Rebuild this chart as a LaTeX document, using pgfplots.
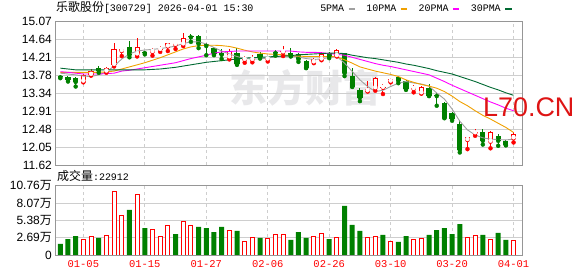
\documentclass[border=0pt]{standalone}
\usepackage{fontspec}
\setmainfont{Liberation Sans}
\newfontfamily\cjk{Noto Sans CJK SC}
\newfontfamily\mono{Liberation Mono}
\usepackage{pgfplots}
\usepackage{pgfplotstable}
\pgfplotsset{compat=1.18}

\definecolor{upred}{RGB}{255,0,0}
\definecolor{dngreen}{RGB}{0,128,0}
\definecolor{ma5c}{RGB}{160,160,160}
\definecolor{ma10c}{RGB}{240,160,0}
\definecolor{ma20c}{RGB}{255,0,255}
\definecolor{ma30c}{RGB}{0,105,50}
\definecolor{gridc}{RGB}{206,206,206}
\definecolor{framec}{RGB}{150,150,150}
\definecolor{wmark}{RGB}{232,232,234}
\definecolor{lred}{RGB}{222,20,20}

% up (red, hollow) candles
\pgfplotstableread{
i O H L C
3 13.62 13.80 13.60 13.78
4 13.78 13.92 13.76 13.87
6 13.86 13.97 13.83 13.95
7 14.02 14.55 13.98 14.39
8 14.35 14.41 14.23 14.40
10 14.27 14.67 14.22 14.44
12 14.33 14.43 14.24 14.38
13 14.38 14.48 14.33 14.41
14 14.46 14.55 14.35 14.54
15 14.50 14.56 14.40 14.53
16 14.51 14.79 14.47 14.66
22 14.20 14.41 14.15 14.36
24 14.14 14.23 14.07 14.17
25 14.14 14.26 14.08 14.20
27 14.15 14.24 14.10 14.19
29 14.32 14.47 14.23 14.35
33 14.08 14.19 14.06 14.15
34 14.15 14.33 14.13 14.29
36 14.23 14.40 14.22 14.38
40 13.39 13.63 13.38 13.44
41 13.46 13.74 13.40 13.70
42 13.47 13.55 13.32 13.50
43 13.62 13.71 13.60 13.68
46 13.44 13.53 13.36 13.47
47 13.34 13.52 13.33 13.50
53 12.22 12.30 12.00 12.29
54 12.38 12.48 12.32 12.41
56 12.18 12.43 12.02 12.42
59 12.26 12.42 12.16 12.36
}\upc

% down (green, filled) candles
\pgfplotstableread{
i O H L C
0 13.75 13.77 13.70 13.72
1 13.74 13.75 13.62 13.66
2 13.71 13.73 13.50 13.61
5 13.94 13.99 13.83 13.88
9 14.44 14.59 14.20 14.26
11 14.33 14.36 14.27 14.30
17 14.71 14.75 14.57 14.68
18 14.72 14.73 14.42 14.52
19 14.52 14.55 14.25 14.47
20 14.43 14.44 14.25 14.27
21 14.30 14.40 14.16 14.26
23 14.30 14.43 14.02 14.03
26 14.28 14.32 14.17 14.20
28 14.33 14.37 14.24 14.30
30 14.30 14.42 14.22 14.23
31 14.28 14.31 14.09 14.15
32 14.12 14.14 13.94 13.95
35 14.30 14.32 14.18 14.22
37 14.30 14.31 13.75 13.82
38 13.75 13.94 13.49 13.50
39 13.42 13.46 13.15 13.23
44 13.72 13.76 13.58 13.64
45 13.63 13.66 13.42 13.43
48 13.46 13.56 13.27 13.28
49 13.30 13.34 13.04 13.27
50 13.11 13.13 12.74 12.75
51 12.87 12.90 12.68 12.72
52 12.60 12.70 11.92 11.98
55 12.40 12.48 12.11 12.20
57 12.31 12.37 12.08 12.20
58 12.20 12.23 12.09 12.10
}\dnc

% moving averages
\pgfplotstableread{
i m5 m10 m20 m30
0 13.82 13.84 13.855 13.94
1 13.80 13.84 13.84 13.92
2 13.78 13.84 13.82 13.90
3 13.75 13.84 13.80 13.90
4 13.74 13.84 13.80 13.90
5 13.78 13.84 13.80 13.90
6 13.85 13.85 13.81 13.90
7 13.99 13.87 13.82 13.90
8 14.16 13.92 13.87 13.90
9 14.28 13.97 13.89 13.90
10 14.35 14.02 13.92 13.90
11 14.375 14.07 13.95 13.90
12 14.39 14.13 13.98 13.91
13 14.41 14.19 14.01 13.92
14 14.435 14.26 14.04 13.94
15 14.47 14.33 14.07 13.96
16 14.53 14.40 14.12 13.99
17 14.57 14.45 14.17 14.02
18 14.57 14.48 14.21 14.05
19 14.52 14.49 14.25 14.08
20 14.435 14.49 14.30 14.10
21 14.35 14.48 14.33 14.12
22 14.28 14.46 14.34 14.14
23 14.22 14.42 14.35 14.16
24 14.17 14.37 14.35 14.18
25 14.16 14.33 14.35 14.19
26 14.16 14.30 14.35 14.20
27 14.185 14.28 14.35 14.21
28 14.21 14.27 14.35 14.22
29 14.23 14.26 14.35 14.23
30 14.23 14.24 14.35 14.24
31 14.21 14.23 14.33 14.26
32 14.17 14.22 14.32 14.27
33 14.15 14.22 14.32 14.28
34 14.16 14.22 14.31 14.29
35 14.195 14.22 14.29 14.30
36 14.22 14.21 14.27 14.30
37 14.06 14.14 14.25 14.29
38 13.86 14.06 14.20 14.25
39 13.66 13.97 14.15 14.22
40 13.50 13.92 14.10 14.19
41 13.38 13.87 14.05 14.17
42 13.41 13.83 14.01 14.14
43 13.50 13.79 13.98 14.11
44 13.58 13.74 13.94 14.08
45 13.62 13.66 13.90 14.04
46 13.585 13.60 13.86 14.01
47 13.56 13.55 13.82 13.97
48 13.51 13.51 13.78 13.93
49 13.345 13.46 13.70 13.88
50 13.20 13.38 13.62 13.84
51 12.96 13.27 13.53 13.80
52 12.67 13.14 13.45 13.74
53 12.46 13.04 13.37 13.68
54 12.34 12.92 13.29 13.62
55 12.27 12.81 13.21 13.55
56 12.24 12.72 13.13 13.48
57 12.23 12.62 13.06 13.42
58 12.22 12.52 12.98 13.35
59 12.24 12.40 12.92 13.29
}\ma

% volume (10^4 shares), red hollow bars
\pgfplotstableread{
i v
3 2.43
4 2.90
6 3.05
7 9.89
8 6.16
10 9.32
12 3.99
13 2.90
14 4.61
16 5.23
17 4.61
22 3.83
24 2.17
25 2.74
27 2.59
28 3.21
29 3.21
33 2.90
34 3.36
36 2.74
40 2.74
41 2.90
43 2.17
46 2.33
47 2.59
53 2.74
54 3.05
56 2.43
59 2.29
}\vred

% volume, green filled bars
\pgfplotstableread{
i v
0 1.71
1 2.48
2 2.95
5 2.64
9 6.99
11 4.19
15 3.26
18 4.35
19 4.19
20 3.57
21 4.35
23 3.73
26 2.64
30 2.33
31 3.57
32 2.64
35 2.48
37 7.61
38 4.66
39 3.73
42 3.11
44 2.02
45 2.95
48 3.11
49 3.88
50 4.19
51 3.26
52 4.81
55 3.11
57 3.42
58 2.33
}\vgreen

\pgfplotsset{
  kline/.style={
    axis line style={framec, line width=0.9bp},
    major tick length=0pt,
    xmin=-0.6, xmax=60.1,
    xtick={3,11,19,27,35,43,51,59},
    xmajorgrids, ymajorgrids,
    x grid style={gridc, line width=0.8bp, dash pattern=on 3bp off 3bp},
    y grid style={gridc, line width=0.8bp},
    /pgf/number format/assume math mode=true,
    yticklabel style={font=\fontsize{12}{12}\selectfont, inner sep=0pt, anchor=east, xshift=-3.7bp},
    scale only axis,
    width=466.3bp,
  }
}

\begin{document}
\begin{tikzpicture}
\useasboundingbox (0,0) rectangle (578bp,276bp);
\node[anchor=center, text=wmark, font=\cjk\bfseries\fontsize{38}{38}\selectfont, inner sep=0pt] at (305bp,188bp) {东方财富};
\node[anchor=base west, inner sep=0pt] at (56bp,264.5bp) {{\cjk\fontsize{12}{12}\selectfont 乐歌股份}{\mono\fontsize{10}{10}\selectfont [300729] 2026-04-01 15:30}};
\node[anchor=base west, inner sep=0pt] at (57bp,95.5bp) {{\cjk\fontsize{12}{12}\selectfont 成交量}{\mono\fontsize{10}{10}\selectfont :22912}};

\begin{axis}[kline,
  at={(55.7bp,111bp)}, anchor=south west,
  height=144bp,
  ymin=11.62, ymax=15.07,
  xticklabels={},
  ytick={11.62,12.05125,12.4825,12.91375,13.345,13.77625,14.2075,14.63875,15.07},
  yticklabels={11.62,12.05,12.48,12.91,13.34,13.78,14.21,14.64,15.07},
  legend style={at={(1,1)}, anchor=south east, xshift=-9bp, yshift=6bp,
    draw=none, fill=none, inner sep=0pt, outer sep=0pt,
    font=\mono\fontsize{10}{10}\selectfont,
    /tikz/every odd column/.append style={column sep=1bp},
    /tikz/every even column/.append style={column sep=8bp}},
  legend columns=-1,
  legend plot pos=right,
  legend image code/.code={\draw[#1, line width=2.8bp] (0bp,0bp) -- (6.5bp,0bp);},
]
% wicks
\addplot[only marks, mark=none, upred, forget plot,
  error bars/.cd, y dir=plus, y explicit, error mark=none,
  error bar style={line width=1bp}]
  table[x=i, y=L, y error plus expr=\thisrow{H}-\thisrow{L}] {\upc};
\addplot[only marks, mark=none, dngreen, forget plot,
  error bars/.cd, y dir=plus, y explicit, error mark=none,
  error bar style={line width=1bp}]
  table[x=i, y=L, y error plus expr=\thisrow{H}-\thisrow{L}] {\dnc};
% bodies
\addplot[only marks, mark=none, upred, forget plot,
  error bars/.cd, y dir=plus, y explicit, error mark=none,
  error bar style={line width=5.2bp}]
  table[x=i, y=O, y error plus expr=\thisrow{C}-\thisrow{O}] {\upc};
\addplot[only marks, mark=none, white, forget plot,
  error bars/.cd, y dir=plus, y explicit, error mark=none,
  error bar style={line width=3.2bp}]
  table[x=i, y expr=\thisrow{O}+0.024, y error plus expr={max(\thisrow{C}-\thisrow{O}-0.048,0)}] {\upc};
\addplot[only marks, mark=none, dngreen, forget plot,
  error bars/.cd, y dir=plus, y explicit, error mark=none,
  error bar style={line width=5.2bp}]
  table[x=i, y=C, y error plus expr=\thisrow{O}-\thisrow{C}] {\dnc};
% moving averages
\addplot[ma5c, line width=0.9bp, mark=none] table[x=i, y=m5] {\ma};
\addlegendentry{5PMA}
\addplot[ma10c, line width=0.9bp, mark=none] table[x=i, y=m10] {\ma};
\addlegendentry{10PMA}
\addplot[ma20c, line width=0.9bp, mark=none] table[x=i, y=m20] {\ma};
\addlegendentry{20PMA}
\addplot[ma30c, line width=0.9bp, mark=none] table[x=i, y=m30] {\ma};
\addlegendentry{30PMA}
\end{axis}

\begin{axis}[kline,
  at={(55.7bp,21bp)}, anchor=south west,
  height=69.3bp,
  ymin=0, ymax=10.76,
  ytick={0,2.69,5.38,8.07,10.76},
  yticklabels={0,{2.69{\cjk 万}},{5.38{\cjk 万}},{8.07{\cjk 万}},{10.76{\cjk 万}}},
  xticklabels={01-05,01-15,01-27,02-06,02-26,03-10,03-20,04-01},
  xticklabel style={font=\mono\fontsize{10.5}{10.5}\selectfont, text=upred, inner sep=0pt, anchor=north, yshift=-5.5bp},
]
\addplot[ybar, bar width=5bp, bar shift=0pt, fill=dngreen, draw=none, forget plot] table[x=i, y=v] {\vgreen};
\addplot[ybar, bar width=4bp, bar shift=0pt, fill=white, draw=upred, line width=1bp, forget plot] table[x=i, y=v] {\vred};
\end{axis}

\node[anchor=base west, inner sep=0pt, text=lred, font=\fontsize{27}{27}\selectfont] at (483bp,159bp) {L70.CN};
\end{tikzpicture}
\end{document}
